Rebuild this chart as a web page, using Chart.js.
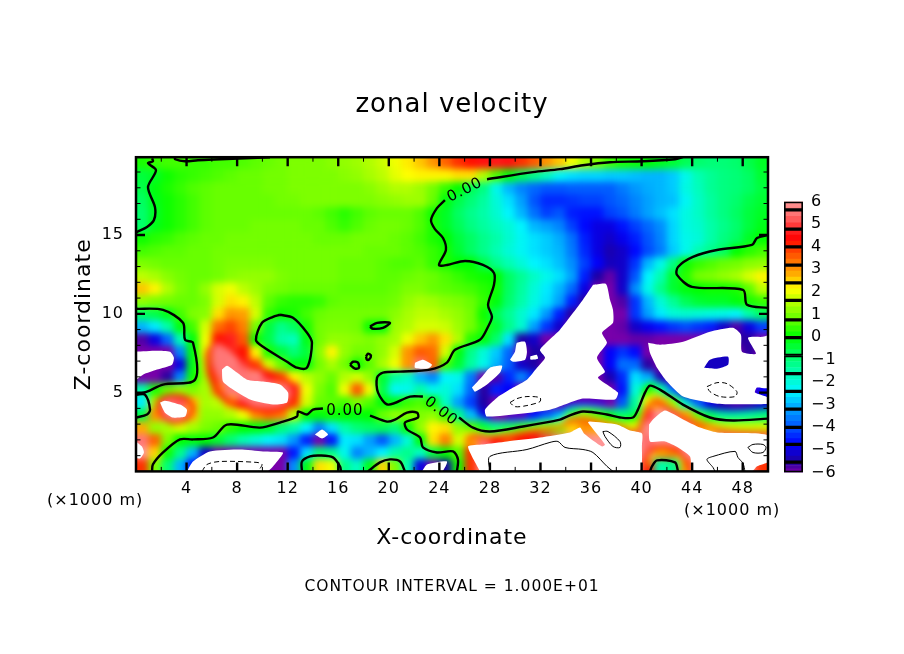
<!DOCTYPE html>
<html><head><meta charset="utf-8">
<style>html,body{margin:0;padding:0;background:#fff}#wrap{position:relative;width:904px;height:654px;overflow:hidden}canvas{position:absolute}</style>
<script src="https://cdn.jsdelivr.net/npm/chart.js@4/dist/chart.umd.min.js"></script>
</head><body><div id="wrap"><canvas id="main" width="904" height="654" style="left:0;top:0"></canvas><canvas id="bar" width="90" height="306" style="left:770px;top:184px"></canvas></div>
<script>
const chartTitle="zonal velocity", xTitle="X-coordinate", zTitle="Z-coordinate", intervalNote="CONTOUR INTERVAL = 1.000E+01", unitLabel="(×1000 m)";
const xMajor=[4,8,12,16,20,24,28,32,36,40,44,48], xMinor=[2,6,10,14,18,22,26,30,34,38,42,46,50];
const zMajor=[5,10,15], zMinor=[1,2,3,4,6,7,8,9,11,12,13,14,16,17,18,19];
const barTicks=[-6,-5,-4,-3,-2,-1,0,1,2,3,4,5,6];
const barEdges=[6,5.63,4.78,3.99,3.18,2.4,1.62,.76,-.03,-.82,-1.62,-2.41,-3.2,-4,-4.76,-5.54,-6];
const rampV=[6,5.63,5.2,4.78,4.3,3.99,3.18,2.8,2.4,2.1,1.62,.76,0,-.82,-1.62,-2.41,-3.2,-4,-4.76,-5.54,-6];
const rampC=[[255,150,150],[255,130,130],[255,90,90],[255,40,40],[255,0,0],[255,50,0],[255,130,0],[255,170,0],[255,225,0],[255,255,0],[190,255,0],[100,255,0],[0,255,0],[0,255,100],[0,255,180],[0,245,255],[0,160,255],[0,85,255],[0,0,255],[30,0,160],[120,0,170]];
// zonal velocity read per cell: rowK is z=(K+.5)*0.8, columns are x=0.5..49.5
const row24=[.2,.4,.5,.5,.4,.4,.5,.5,.6,.7, .8,.9,1,1,1,1.1,1.2,1.3,1.5,1.7, 2,2.3,2.6,3,3.5,4,4.2,4.5,4.6,4.5, 4,3.6,3,2.6,2,1.5,1,.5,.2,.1, 0,-.2,-.4,-.7,-.9,-1,-1,-.9,-.6,-.3];
const row23=[-.5,-.3,.1,.3,.4,.5,.6,.7,.8,.8, .9,.9,1,1,1,1,1.1,1.2,1.4,1.6, 1.9,2.1,2.2,2.2,2.2,2.4,2.4,1.5,.6,-.1, -.7,-1.2,-1.7,-2.3,-2.6,-2.7,-2.7,-2.8,-2.8,-2.9, -3,-3,-2.8,-2.2,-1.6,-1.3,-1.1,-1,-.8,-.4];
const row22=[-.6,-.1,.2,.4,.6,.7,.8,.8,.8,.8, .9,.9,1,1,1,1,1,1,1.1,1.3, 1.5,1.5,1.3,.9,.4,0,-.7,-1.1,-2.2,-3, -3.5,-3.8,-4,-4,-3.9,-3.9,-3.9,-3.9,-3.6,-3.3, -3.1,-3,-2.8,-2.1,-1.7,-1.3,-1.1,-1,-.8,-.5];
const row21=[-.8,-.2,.1,.3,.5,.7,.8,.8,.8,.8, .8,.9,.9,1,1,1,1,1,1,1.1, 1.2,1.3,1.3,.8,-.1,-.6,-1,-1.4,-2,-2.6, -3.2,-4,-4.4,-4.4,-4.3,-4.2,-4.2,-4,-3.8,-3.5, -3.2,-3,-2.9,-2.3,-1.8,-1.4,-1.1,-.9,-.6,-.4];
const row20=[-.9,-.3,.1,.3,.5,.7,.8,.8,.8,.8, .8,.8,.8,.8,.7,.5,.3,.5,.7,.8, .8,.8,.6,.1,-.3,-.8,-1.2,-1.5,-1.9,-2.4, -3,-3.7,-4.2,-4,-4.5,-4.6,-4.6,-4.2,-4,-3.6, -3.2,-2.9,-2.6,-2.1,-1.8,-1.4,-1.1,-.8,-.5,-.3];
const row19=[-.9,-.2,.1,.3,.5,.7,.8,.8,.8,.9, .9,.9,.9,.8,.8,.6,.4,.6,.8,.9, .9,.8,.6,.2,-.3,-.7,-1.1,-1.4,-1.7,-2, -2.4,-3,-3.2,-3.5,-4.2,-4.7,-5,-5,-4.6,-4.2, -3.8,-3.4,-2.7,-2.1,-1.9,-1.5,-1.2,-.9,-.5,-.2];
const row18=[.1,.3,.4,.6,.7,.8,.8,.9,.9,.9, .9,.9,.9,.9,.8,.8,.8,.9,.9,.9, .8,.7,.5,.2,0,-.5,-.8,-1.2,-1.5,-1.9, -2.3,-2.6,-2.8,-3.1,-3.7,-4.5,-5,-5.2,-4.9,-4.5, -4,-3.5,-2.7,-2.2,-2,-1.5,-1.1,-.8,-.3,0];
const row17=[.5,.6,.7,.7,.8,.8,.9,.9,.9,.9, .9,.9,.9,.9,.9,.9,.9,.9,.8,.8, .8,.7,.6,.4,.15,-.4,-.8,-1.2,-1.6,-2, -2.3,-2.6,-2.8,-3,-3.6,-4.4,-5,-5.4,-5.2,-4.7, -4.1,-3.6,-2.8,-2.2,-1.6,-1.2,-.8,0,.3,.5];
const row16=[1,.9,.8,.8,.8,.8,.9,1,1,1, 1,.9,.9,.9,.9,.9,.8,.8,.8,.7, .6,.6,.7,.4,.2,0,0,-.6,-1.2,-1.6, -2,-2.4,-2.6,-2.9,-3.4,-4.2,-4.8,-5.3,-5.2,-4.3, -3,-2.2,-1.1,.1,.4,.6,.8,.9,1.1,1.2];
const row15=[1.6,1.4,1.1,.9,.8,.8,.9,1.1,1.2,1.2, 1.2,1,.9,.9,.9,.9,.8,.8,.8,.7, .7,.8,.9,.8,.6,.4,.2,.1,0,-.8, -1.3,-1.8,-2.2,-2.6,-3.2,-4.5,-5.5,-5.9,-5.2,-4, -2.4,-1.6,-.4,.3,.9,1,1.2,1.4,1.8,2.2];
const row14=[2.6,2.2,1.5,1,.8,1.2,1.8,2,1.6,1.3, 1,.9,.8,.8,.8,.8,.7,.7,.7,.7, .8,1,1,.8,.7,.6,.5,.3,.1,-.8, -1.4,-2,-2.5,-3,-3.8,-5,-6,-6,-5.2,-3.4, -2.2,-1.2,-.4,-.1,0,.1,.1,.2,.7,1.6];
const row13=[1.2,1,.9,.8,.8,1,1.8,2.4,2.2,1.6, .7,.4,.3,.3,.4,.7,.8,.8,.8,.8, .9,1.2,1.4,1.3,1.1,1,.8,.4,-.1,-.9, -1.5,-2.1,-2.6,-3.2,-4.5,-5.6,-6,-6,-5.8,-4.3, -3,-2,-1.3,-.7,-.4,-.3,-.3,-.1,.2,.4];
const row12=[-.8,-.6,-.2,.5,1,1.1,2.4,3,2.9,1.8, .4,.1,.2,.5,.8,.9,.9,.9,.9,.9, 1.1,1.4,1.6,1.6,1.4,1.2,.9,.1,-.7,-1.3, -1.9,-2.5,-3.3,-4.5,-5.6,-6,-6,-6,-6,-4.3, -3.2,-2.5,-2,-1.9,-2,-2.1,-2.2,-2.4,-1.5,-.8];
const row11=[-3,-2.5,-1.5,-.1,.5,1.8,3.4,3.8,3.2,.9, -.5,-1.2,-.8,.2,.9,1,1,.9,.1,-.1, 1.3,1.5,1.8,1.8,1.7,1.3,.9,.3,-.4,-1.2, -1.9,-3.2,-4.3,-5.2,-6,-6,-6,-6,-5.9,-5.2, -4.9,-4.6,-4.3,-4.1,-4.3,-4.5,-5.2,-5.8,-5,-4.2];
const row10=[-5.8,-5,-3.8,-1.6,-.1,2,4.2,4.7,3.6,.1, -.6,-1.5,-1.7,-.2,.9,1.2,1.2,1.1,1,1.2, 1.4,2,2.6,3,2.4,1.5,.3,-.1,-.9,-2.6, -5.5,-5.2,-6,-6,-6,-6,-6,-6,-6,-5.9, -5.9,-6,-6,-6,-6,-6,-6,-5.6,-5.6,-6];
const row9=[-6,-6,-6,-3.5,-.1,1.9,4.5,5.5,4.2,2.2, .2,-.5,-1,-.5,1.1,2.2,1.2,.9,.9,1.2, 1.8,3,3.6,3.4,1.8,-.1,-1.2,-2,-2.8,-3.8, -6,-5.5,-5.5,-6,-6,-6,-6,-4.8,-4.3,-4.7, -6,-6,-6,-6,-6,-6,-6,-6,-5.6,-6];
const row8=[-6,-6,-6,-5,-.2,1.6,4.5,5.8,5.2,3.5, 1.8,.8,-.1,-.1,.9,1.4,.9,.1,.7,1.4, 2,3,5.5,3.5,.5,-.4,-1.4,-2.2,-3,-3.9, -5.2,-5.5,-6,-6,-6,-6,-6,-4.8,-3.7,-3.8, -5.6,-6,-6,-6,-6,-5.3,-5,-6,-6,-6];
const row7=[-6,-6,-5.6,-3.5,.1,1.4,3.8,6,6,6, 4.5,3.3,2.2,1.6,1.2,.8,1.5,1.8,1.2,-.4, -1.4,-1.8,-3,-3.5,-2.4,-2.2,-3.6,-6,-5.8,-4.4, -3.5,-4.4,-6,-6,-6,-6,-6,-5.4,-4.4,-2.6, -3.2,-5.6,-6,-6,-6,-6,-6,-6,-6,-6];
const row6=[-1.5,.2,.8,1.2,1,1.4,3,5.5,6,6, 6,6,5,2,1,.6,2,3.6,2,-.6, -2.3,-2.2,-1.5,-2.2,-2,-2.6,-3.8,-5.6,-4.5,-4.8, -6,-6,-6,-6,-6,-6,-6,-6,-4.6,-2, .1,-1,-3.6,-5.6,-6,-6,-6,-6,-6,-4.8];
const row5=[-2.5,1.5,5.5,5.2,2.6,1.4,1.6,2.6,4.5,5.8, 6,5.6,3.6,1.8,.8,.7,.5,1,.6,-.1, -.2,.4,.6,.1,-1.8,-3.2,-4.2,-5.5,-6,-6, -6,-6,-6,-6,-6,-6,-6,-6,-4,-1, 2,2.8,.8,-1.6,-3.5,-5,-5.6,-5.8,-5.7,-5.2];
const row4=[-.6,3,6,6,2.6,1.2,1.2,1.5,2,3, 3.4,3.2,1.6,0,-.1,.1,0,-.1,0,.8, 1.2,1,1,1.2,.4,-1.2,-3.2,-5,-6,-6, -6,-4.6,-3.7,-2.3,-.6,.7,.4,0,-.4,0, 5,6,5.6,3,.5,-.2,-.8,-.8,-.8,-.6];
const row3=[2.8,1.2,1.4,1.8,1.4,1,.8,.3,0,-.1, -.3,-1,-1.5,-2.4,-3.5,-2.6,-1.5,-1,-.8,-.7, -1,.1,1.2,2.2,2.4,1.2,.6,-.4,-.8,-.4, 0,.2,.6,1,2.5,3,2.8,2,1.5,1.8, 5.8,6,6,5.4,3,2,1.5,1.5,1.5,1.6];
const row2=[5.5,3.5,1,0,-.1,0,-.4,-1,-1.6,-2, -2.4,-2.6,-3.3,-4.5,-6,-4.6,-2.5,-2.6,-3.2,-4, -3,-2,-.1,2.4,3.2,1.8,2.6,5.4,4.4,3.8, 4.2,4.5,5,5.5,5.8,5.8,6,6,6,5.8, 5.4,6,6,6,6,6,6,6,6,6];
const row1=[6,2.5,.1,-1.2,-3,-5.2,-6,-6,-6,-6, -6,-6,-4.6,-2.6,-1,-1.2,-2.2,-3.5,-3,-2.4, -1.5,-1.2,-1.8,-.5,0,.6,4,6,6,6, 6,6,6,6,6,6,6,6,6,6, 5.6,3.5,4,5.8,6,6,6,6,6,6];
const row0=[4,1,-1,-3,-4.6,-6,-6,-6,-6,-6, -6,-6,-3.4,-.2,2.4,2,-1.2,-1.8,-.2,2.5, 1,-1.6,-5,-6,-5.5,.1,4,6,6,6, 6,6,6,6,6,6,6,6,6,6, 4.4,-1.5,-1.2,3.5,5.8,6,6,6,6,4];
const gridRows=[row0,row1,row2,row3,row4,row5,row6,row7,row8,row9,row10,row11,row12,row13,row14,row15,row16,row17,row18,row19,row20,row21,row22,row23,row24];
// narrow bands the cells cannot resolve: level isolines, as [x,z]
const iso4Main=[[26.18,1.84],[26.66,2.22],[28,2.15],[29.35,2.22],[30.62,2.41],[31.96,2.59],[33.54,2.85],[34.1,3.16],[35.36,3.29],[37.26,2.97],[38.29,2.78],[39.63,2.47],[40.03,3.1],[40.43,3.92],[40.9,4.43],[41.69,4.24],[43.27,3.48],[45.41,2.78],[47.23,2.47],[50,2.41]];
const iso2Main=[[25.87,2.47],[26.98,2.47],[28,2.34],[29.35,2.47],[30.93,2.72],[33.54,2.97],[34.1,3.42],[35.36,3.54],[37.26,3.23],[38.29,3.1],[39.48,2.97],[39.87,3.48],[40.43,4.56],[40.82,5],[41.61,4.75],[43.27,3.8],[45.41,3.04],[47.23,2.85],[50,2.85]];
const isoM2Main=[[26.18,3.73],[28,3.1],[29.35,3.04],[30.93,3.16],[33.54,3.48],[34.1,3.92],[35.36,4.11],[37.26,3.92],[38.45,3.73],[39.32,3.73],[39.55,4.24],[39.87,5.19],[40.66,5.82],[41.45,5.51],[43.27,4.49],[45.41,3.67],[47.23,3.54],[50,3.61]];
const isoM45A=[[29.35,3.42],[30.93,3.54],[33.54,3.8],[34.1,4.24],[35.36,4.37],[37.26,4.43]];
const isoM45B=[[41.45,6.01],[43.27,4.87],[45.41,4.05],[47.23,3.92],[50,4.05]];
const iso4Oval=[[5.7,7.53],[6.57,8.35],[7.44,7.91],[8.78,6.9],[10.84,6.14],[12.58,5.32],[12.42,4.43],[11.15,3.92],[8.78,4.05],[6.88,4.68],[5.85,6.14],[5.7,7.53]];
const iso5Oval=[[6.01,7.91],[6.65,8.16],[7.44,7.09],[8.78,6.33],[10.84,5.7],[12.18,5.19],[12.03,4.43],[10.84,4.11],[8.78,4.37],[7.2,5.06],[6.09,6.65]];
const iso4Small=[[1.66,4.37],[2.45,4.75],[3.88,4.68],[4.51,4.05],[4.11,3.42],[2.93,3.16],[2.06,3.61],[1.66,4.37]];
const iso4Ring=[[40.27,0],[40.43,1.2],[41.69,1.58],[43.04,1.2],[43.83,0]];
const iso2Ring=[[40.5,.32],[40.9,.95],[41.69,1.2],[42.88,.89],[43.43,0]];
// regions outside the colour range (left white), as [x,z]
const outA=[[36.16,11.84],[37.18,11.9],[37.5,10.89],[37.74,10.25],[37.74,9.43],[36.87,8.8],[37.26,8.16],[36.47,7.22],[37.1,6.33],[36.55,5.95],[38.13,5],[37.9,4.56],[35.36,4.62],[32.75,3.92],[27.77,3.48],[27.61,3.92],[28.56,4.68],[29.83,5.32],[30.93,5.82],[31.72,6.58],[32.36,7.22],[31.96,7.72],[33.54,8.99],[35.36,10.89]];
const outB=[[29.59,7.09],[29.98,7.59],[30.14,8.16],[30.78,8.23],[30.93,7.59],[30.78,7.09],[29.83,6.96]];
const outC=[[26.58,5.32],[27.37,6.01],[28,6.58],[28.96,6.71],[28.8,6.27],[27.77,5.51],[26.82,5.06]];
const outD=[[31.2,7.3],[31.7,7.4],[31.8,7.15],[31.2,7.1]];
const outE=[[0,7.6],[1.66,7.66],[2.69,7.59],[3,7.22],[2.85,6.77],[1.66,6.46],[.55,6.14],[0,5.85]];
const outF=[[6.8,6.46],[7.2,6.71],[7.99,6.27],[8.78,5.82],[10.05,5.7],[11.39,5.51],[12.03,5],[11.95,4.37],[10.84,4.24],[9.02,4.56],[7.67,5.19],[6.88,5.7]];
const outG=[[1.9,4.37],[2.29,4.49],[3.48,4.24],[4.03,3.92],[3.88,3.48],[2.93,3.42],[2.29,3.73]];
const outH=[[0,1.9],[.47,1.58],[.63,1.2],[.32,.82],[0,.89]];
const outI=[[4.03,0],[4.51,.63],[5.85,1.27],[8.23,1.39],[10.05,1.27],[11.63,1.2],[11.16,.63],[10.36,0]];
const outJ=[[14.16,2.34],[14.72,2.66],[15.19,2.34],[14.72,2.09]];
const outK=[[22.07,6.9],[22.71,7.09],[23.42,6.77],[23.1,6.52],[22.07,6.58]];
const outL=[[22.63,0],[23.02,.44],[24.6,.63],[24.21,0]];
const outM=[[27.22,0],[26.27,1.58],[27.45,1.71],[29.35,1.9],[31.96,2.15],[34.34,2.47],[35.13,2.78],[35.44,2.41],[36.87,1.58],[37.1,1.71],[35.76,3.1],[35.92,3.16],[38.05,2.97],[39.08,2.59],[40.03,2.41],[40.03,1.71],[39.79,0]];
const outN=[[40.59,2.97],[40.9,3.29],[41.85,3.86],[43.28,3.29],[44.62,2.78],[45.97,2.47],[50,2.28],[50,.63],[49.13,.32],[48.73,0],[44.07,0],[43.83,.95],[42.88,1.52],[41.85,1.9],[40.66,1.9]];
const outP=[[40.51,8.16],[41.46,8.04],[43.28,8.23],[45.41,8.86],[47.23,9.11],[47.86,8.67],[47.94,7.59],[49.05,7.47],[48.42,8.48],[49.6,8.54],[50,8.61],[50,5.32],[49.13,5.32],[48.97,5],[50,4.68],[50,4.3],[45.97,4.3],[43.28,4.75],[42.01,5.7],[41.22,6.58],[40.66,7.53]];
const holeP=[[44.94,6.58],[45.41,7.09],[46.84,7.28],[46.84,6.77],[45.97,6.52]];
// zero contour
const c1=[[1.27,19.87],[1.34,19.68],[.95,19.56],[1.58,19.11],[.95,18.04],[1.5,16.77],[1.42,15.95],[.87,15.51],[.08,15.19],[0,15.13]];
const c2=[[3.09,19.94],[3.09,19.81],[3.88,19.68],[4.9,19.75],[6.65,19.81],[10.6,19.94]];
const c3a=[[43.27,19.94],[42.64,19.81],[40.11,19.68],[37.5,19.62],[35.36,19.43],[33.54,19.18],[31.4,18.99],[27.77,18.54]];
const c3b=[[24.44,17.22],[23.81,16.71],[23.34,15.95],[23.65,15.38],[24.29,14.81],[24.52,14.05],[23.97,13.1],[24.6,13.1],[26.03,13.35],[27.45,13.1],[28.32,12.59],[28.32,11.84],[27.85,10.57],[28.16,9.81],[27.85,9.18],[27.21,8.35],[25.24,7.72],[24.6,6.9],[23.26,6.46],[20.89,6.33],[19.54,6.27],[19.07,5.95],[19.15,5],[19.94,4.24],[21.68,4.75],[22.7,4.75]];
const c3c=[[25.55,3.42],[26.66,2.78],[28,2.53],[30.62,2.85],[33.54,3.29],[34.1,3.48],[35.36,3.8],[37.26,3.61],[38.29,3.42],[39.32,3.42],[39.71,3.92],[40.27,5],[40.66,5.44],[41.45,5.19],[43.27,4.24],[45.41,3.42],[47.23,3.23],[50,3.35]];
const c4=[[50,15],[49.13,14.81],[48.73,14.37],[45.96,14.05],[44.06,13.61],[42.88,12.97],[42.8,12.47],[43.98,11.71],[48.02,11.52],[48.34,10.57],[50,10.38]];
const c5=[[0,10.32],[2.14,10.25],[3.72,9.43],[3.88,8.35],[4.51,8.16],[4.67,5.82],[2.14,5.51],[.87,5.06],[0,4.87]];
const c6=[[0,4.87],[.71,4.87],[1.11,3.92],[.87,3.61],[0,3.42]];
const c7=[[11.39,9.94],[12.42,9.75],[13.53,8.8],[13.92,8.16],[13.53,6.58],[12.74,6.58],[11.95,6.96],[10.05,7.91],[9.49,8.35],[9.97,9.43],[10.84,9.81],[11.39,9.94]];
const c8a=[[1.27,0],[1.34,.44],[2.14,1.2],[3.48,2.03],[4.51,2.03],[6.09,2.15],[7.2,2.97],[9.81,2.78],[11.39,3.1],[12.74,3.48],[12.82,3.8],[13.53,3.61],[14,3.92],[14.79,3.99]];
const c8b=[[18.51,3.54],[19.86,3.16],[20.49,3.29],[21.44,3.73],[22.23,3.73],[22.31,3.42],[21.28,3.1],[21.44,2.66],[22.47,2.15],[22.7,1.52],[23.81,1.2],[25.08,1.27],[25.47,.76],[25.39,0]];
const c9=[[13.13,0],[13.13,.63],[13.77,.95],[14.56,1.01],[15.58,.89],[16.14,.32],[16.22,0]];
const c10=[[18.35,0],[19.3,.57],[20.09,.76],[20.89,.63],[21.28,0]];
const c11=[[18.51,9.18],[19.07,9.43],[20.09,9.43],[19.54,9.11],[18.75,9.05],[18.51,9.18]];
const c12=[[16.93,6.77],[17.17,6.96],[17.56,6.9],[17.64,6.58],[17.33,6.52],[16.93,6.77]];
const c13=[[18.2,7.28],[18.35,7.47],[18.59,7.34],[18.43,7.09],[18.27,7.09],[18.2,7.28]];
const c14=[[40.66,0],[40.82,.32],[41.22,.7],[42.64,.57],[42.88,0]];
// +10 and -10 contours
const t1=[[28,0],[28,.95],[30.93,1.39],[32.75,1.84],[33.38,1.9],[33.94,1.52],[35.36,1.39],[36.15,1.2],[37.26,.32],[37.74,0]];
const t2=[[36.94,2.53],[37.34,2.53],[38.29,1.9],[38.29,1.52],[37.74,1.58],[37.1,2.22],[36.94,2.53]];
const t3=[[48.18,0],[48.02,.51],[47.62,.89],[47.39,1.27],[45.65,.95],[45.17,.76],[45.65,.25],[45.81,0]];
const t4=[[48.41,1.52],[48.81,1.71],[49.6,1.71],[49.84,1.52],[49.6,1.2],[48.81,1.2],[48.41,1.52]];
const d1=[[29.59,4.37],[30.14,4.62],[30.93,4.75],[31.96,4.68],[31.96,4.43],[30.93,4.18],[29.98,4.11],[29.59,4.37]];
const d2=[[45.17,5.38],[45.96,5.63],[46.75,5.57],[47.54,5.06],[47.39,4.75],[46.2,4.75],[45.41,5.06],[45.17,5.38]];
const d3=[[5.22,0],[5.62,.44],[6.65,.63],[9.57,.57],[9.97,.44],[9.65,0]];
const contourLabels=[{t:"0.00",x:26.03,z:17.85,r:-27},{t:"0.00",x:16.53,z:3.8,r:0},{t:"0.00",x:24.13,z:3.8,r:38}];

const FONT="'DejaVu Sans'";
function ramp(v){
  if(v>=rampV[0])return rampC[0];
  for(let i=1;i<rampV.length;i++){
    if(v>=rampV[i]){const f=(v-rampV[i])/(rampV[i-1]-rampV[i]);
      return rampC[i].map((c,j)=>Math.round(c+(rampC[i-1][j]-c)*f));}
  }
  return rampC[rampC.length-1];
}
const css=a=>`rgb(${a[0]},${a[1]},${a[2]})`;
const heat=[],heatCol=[];
gridRows.forEach((r,k)=>r.forEach((v,c)=>{heat.push({x:c+.5,y:(k+.5)*.8});heatCol.push(css(ramp(v)));}));
const closed=a=>a.concat([a[0]]);
const fillSet=(d,col)=>({data:closed(d),showLine:true,pointRadius:0,borderWidth:0,borderColor:col,backgroundColor:col,fill:'shape',order:50,tension:.2});
const lineSet=(d,w,dash)=>({data:d,showLine:true,pointRadius:0,borderWidth:w,borderColor:'#000',borderDash:dash||[],fill:false,order:10,tension:.3});
const isoSet=(d,level,w)=>({data:d,showLine:true,pointRadius:0,borderWidth:w,borderColor:css(ramp(level)),fill:false,order:95,tension:.3});
const upperSets=[
  ...[c1,c2,c3a,c3b,c3c,c4,c5,c6,c7,c8a,c8b,c9,c10,c11,c12,c13,c14].map(d=>lineSet(d,2.4)),
  ...[t1,t2,t3,t4].map(d=>lineSet(d,1)),
  ...[d1,d2,d3].map(d=>lineSet(d,1,[5,3])),
  Object.assign(fillSet(holeP,'#1400c0'),{order:40}),
  ...[outA,outB,outC,outD,outE,outF,outG,outH,outI,outJ,outK,outL,outM,outN,outP].map(d=>fillSet(d,'#fff'))
];
const BLUR_AT=upperSets.length;
const datasets=[...upperSets,
  Object.assign(fillSet(iso5Oval,css(ramp(5.5))),{order:94.5}),
  isoSet(iso2Main,2,3),isoSet(iso4Main,4,4),isoSet(isoM2Main,-2.2,3),isoSet(isoM45A,-4.8,3),isoSet(isoM45B,-4.8,3),
  isoSet(iso4Oval,4.2,5),isoSet(iso4Small,4.2,4),isoSet(iso4Ring,4,4),isoSet(iso2Ring,2,3),
  {data:heat,showLine:false,pointStyle:'rect',pointRadius:9.2,pointBorderWidth:0,pointBackgroundColor:heatCol,order:100}
];
const spacing={id:'spacing',beforeLayout(ch){ch.ctx.letterSpacing='1px';},beforeDraw(ch){ch.ctx.letterSpacing='1px';}};
const smooth={id:'smooth',afterDatasetDraw(ch,args){
  if(args.index!==BLUR_AT)return;
  const a=ch.chartArea,m=20,w=Math.round(a.right-a.left),h=Math.round(a.bottom-a.top),l=Math.round(a.left),t=Math.round(a.top);
  const c=document.createElement('canvas');c.width=w+2*m;c.height=h+2*m;const g=c.getContext('2d');
  g.drawImage(ch.canvas,l,t,w,h,m,m,w,h);
  g.drawImage(c,m,m,1,h,0,m,m,h);g.drawImage(c,m+w-1,m,1,h,m+w,m,m,h);
  g.drawImage(c,0,m,w+2*m,1,0,0,w+2*m,m);g.drawImage(c,0,m+h-1,w+2*m,1,0,m+h,w+2*m,m);
  const x=ch.ctx;x.save();x.beginPath();x.rect(a.left,a.top,a.right-a.left,a.bottom-a.top);x.clip();
  x.filter='blur(3.5px)';x.drawImage(c,l-m,t-m);x.restore();
}};
const frame={id:'frame',afterDatasetsDraw(ch){
  const x=ch.ctx,a=ch.chartArea,sx=ch.scales.x,sy=ch.scales.y;x.save();x.strokeStyle='#000';
  const mark=(vals,len,w)=>{x.lineWidth=w;x.beginPath();
    vals.x.forEach(v=>{const p=sx.getPixelForValue(v);x.moveTo(p,a.bottom);x.lineTo(p,a.bottom-len);x.moveTo(p,a.top);x.lineTo(p,a.top+len);});
    vals.z.forEach(v=>{const p=sy.getPixelForValue(v);x.moveTo(a.left,p);x.lineTo(a.left+len,p);x.moveTo(a.right,p);x.lineTo(a.right-len,p);});
    x.stroke();};
  mark({x:xMajor,z:zMajor},9,2.4);mark({x:xMinor,z:zMinor},4.5,1);
  x.lineWidth=2.5;x.strokeRect(a.left,a.top,a.right-a.left,a.bottom-a.top);
  x.fillStyle='#000';x.textAlign='center';x.textBaseline='middle';x.font=`15px ${FONT}`;
  contourLabels.forEach(l=>{x.save();x.translate(sx.getPixelForValue(l.x),sy.getPixelForValue(l.z));x.rotate(l.r*Math.PI/180);x.fillText(l.t,0,0);x.restore();});
  x.textAlign='left';x.font=`16px ${FONT}`;x.fillText(unitLabel,47,501);x.fillText(unitLabel,684,511);
  x.restore();
}};
new Chart(document.getElementById('main'),{type:'scatter',data:{datasets},plugins:[spacing,smooth,frame],options:{
  responsive:false,animation:false,devicePixelRatio:1,
  plugins:{legend:{display:false},tooltip:{enabled:false},
    title:{display:true,text:chartTitle,color:'#000',font:{family:FONT,size:26,weight:'normal',lineHeight:1.2},padding:{top:90,bottom:36}},
    subtitle:{display:true,position:'bottom',text:intervalNote,color:'#000',font:{family:FONT,size:15.5,weight:'normal',lineHeight:1.2},padding:{top:16,bottom:58}}},
  scales:{
    x:{type:'linear',min:0,max:50,afterFit:s=>{s.height=90;},grid:{display:false,drawTicks:false},border:{display:false},
      afterBuildTicks:s=>{s.ticks=xMajor.map(v=>({value:v}));},
      ticks:{autoSkip:false,maxRotation:0,padding:8,color:'#000',font:{family:FONT,size:16}},
      title:{display:true,text:xTitle,color:'#000',font:{family:FONT,size:22,lineHeight:1.2},padding:{top:0,bottom:10}}},
    y:{type:'linear',min:0,max:19.94,afterFit:s=>{s.width=136;},grid:{display:false,drawTicks:false},border:{display:false},
      afterBuildTicks:s=>{s.ticks=zMajor.map(v=>({value:v}));},
      ticks:{autoSkip:false,padding:12,color:'#000',font:{family:FONT,size:16}},
      title:{display:true,text:zTitle,color:'#000',font:{family:FONT,size:22,lineHeight:1.2},padding:{top:71,bottom:0}}},
    yRight:{type:'linear',position:'right',min:0,max:1,afterFit:s=>{s.width=136;},grid:{display:false,drawTicks:false},border:{display:false},ticks:{display:false}}
  }}});
const barSets=[];
const boxes=barEdges.slice(0,-1).map((hi,i)=>[barEdges[i+1],hi]);
boxes.forEach(([lo,hi])=>barSets.push({data:[[lo,hi]],grouped:false,backgroundColor:'rgba(0,0,0,0)',borderColor:'#000',borderWidth:1.3,borderSkipped:false,barPercentage:1,categoryPercentage:1}));
boxes.forEach(([lo,hi])=>{const s=(hi-lo)/3;[0,1,2].forEach(j=>barSets.push({data:[[lo+j*s,lo+(j+1)*s]],grouped:false,backgroundColor:css(ramp(lo+(j+.5)*s)),borderWidth:0,barPercentage:1,categoryPercentage:1}));});
new Chart(document.getElementById('bar'),{type:'bar',data:{labels:[''],datasets:barSets},plugins:[spacing],options:{
  responsive:false,animation:false,devicePixelRatio:1,
  layout:{padding:{left:14,right:0,top:6,bottom:17}},
  plugins:{legend:{display:false},tooltip:{enabled:false}},
  scales:{
    x:{display:false,grid:{display:false}},
    y:{position:'right',min:-6,max:6,afterFit:s=>{s.width=57;},grid:{display:false,drawTicks:false},border:{display:false},
      afterBuildTicks:s=>{s.ticks=barTicks.map(v=>({value:v}));},
      ticks:{padding:8,autoSkip:false,color:'#000',font:{family:FONT,size:16},callback:v=>String(v).replace('-','\u2212')}}
  }}});
</script></body></html>
